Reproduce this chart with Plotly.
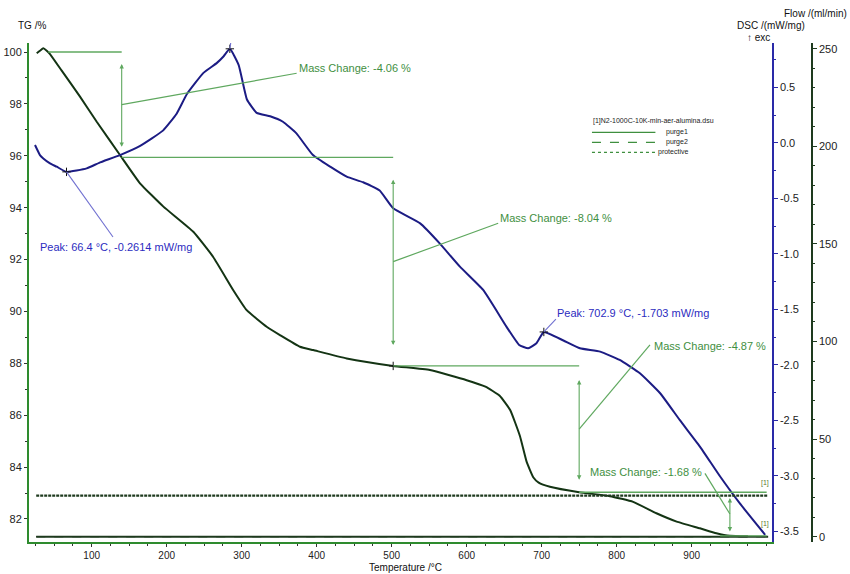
import plotly.graph_objects as go

# ---- TG curve (mass %) ----
tg_temp = [26.7, 31, 35.5, 40, 44.4, 60, 84.4, 106.7, 137.7, 164.4, 195.6, 235.5, 262,
           288.8, 306.7, 333.3, 351, 377.7, 395.5, 440, 502, 551, 600, 625, 644, 658,
           671, 680, 689, 696, 711, 750, 791, 822, 853, 880, 911, 933, 951, 975]
tg_mass = [99.95, 100.05, 100.14, 100.05, 99.92, 99.28, 98.28, 97.31, 96.03, 94.94, 94.04,
           93.07, 92.10, 90.82, 90.05, 89.41, 89.09, 88.64, 88.51, 88.19, 87.90, 87.74,
           87.35, 87.10, 86.75, 86.20, 85.20, 84.20, 83.60, 83.40, 83.24, 83.03, 82.88,
           82.66, 82.22, 81.90, 81.64, 81.45, 81.35, 81.33]

# ---- DSC curve (mW/mg) ----
dsc_temp = [24.4, 31, 35.5, 44.4, 53.3, 66.4, 93.3, 110, 137.8, 164, 195, 213, 227, 249,
            267, 276, 284.2, 296, 307, 320, 338, 355, 373, 395, 418, 440, 462, 484, 502,
            538, 564, 591, 622, 653, 670, 682, 693, 702.9, 729, 751, 778, 804, 831, 858,
            884, 911, 938, 964, 998]
dsc_signal = [-0.02, -0.11, -0.14, -0.185, -0.215, -0.2614, -0.23, -0.18, -0.11, -0.03,
              0.11, 0.26, 0.44, 0.63, 0.72, 0.78, 0.8467, 0.70, 0.39, 0.27, 0.24, 0.19,
              0.085, -0.11, -0.215, -0.305, -0.355, -0.43, -0.59, -0.725, -0.905, -1.115,
              -1.325, -1.655, -1.82, -1.85, -1.805, -1.703, -1.78, -1.85, -1.88, -1.955,
              -2.075, -2.255, -2.495, -2.735, -3.005, -3.245, -3.53]

# ---- gas flows (ml/min) ----
flow_temp = [26, 1002]
purge1_flow = [0, 0]
purge2_flow = [0, 0]
protective_flow = [21, 21]
flow_names = ["purge1", "purge2", "protective"]

# ---- evaluated DSC peaks ----
peak_temp = [66.4, 284.2, 702.9]
peak_dsc = [-0.2614, 0.8467, -1.703]

# ---- evaluated TG mass steps ----
start_mass = 100.0
step_temp = [140, 502, 750, 951]
mass_change = [-4.06, -8.04, -4.87, -1.68]

# ---- axis ticks ----
x_ticks = [100, 200, 300, 400, 500, 600, 700, 800, 900]
tg_ticks = [82, 84, 86, 88, 90, 92, 94, 96, 98, 100]
dsc_ticks = [0.5, 0.0, -0.5, -1.0, -1.5, -2.0, -2.5, -3.0, -3.5]
flow_ticks = [0, 50, 100, 150, 200, 250]

FONT = "Liberation Sans, Arial, sans-serif"
TG_COL = "#143414"
DSC_COL = "#1c1c84"
EVAL_GREEN = "#3f8f3f"
EVAL_LINE = "#5fa85f"
PEAK_TEXT = "#2c2cc0"
PEAK_LINE = "#7070d0"
FLOW_COL = "#1e3a1e"

# mass levels after each step
levels = [start_mass]
for dm in mass_change:
    levels.append(round(levels[-1] + dm, 2))

fig = go.Figure()

fig.add_trace(go.Scatter(x=tg_temp, y=tg_mass, mode="lines",
                         line=dict(color=TG_COL, width=2, shape="spline", smoothing=0.4),
                         yaxis="y", showlegend=False, hoverinfo="skip"))
flow_styles = [dict(width=2, dash="solid"), dict(width=1.2, dash="dash"), dict(width=2.2, dash="3px,1px")]
for name, vals, st in zip(flow_names, [purge1_flow, purge2_flow, protective_flow], flow_styles):
    fig.add_trace(go.Scatter(x=flow_temp, y=vals, mode="lines", name=name,
                             line=dict(color=FLOW_COL, **st), yaxis="y3", showlegend=False))
fig.add_trace(go.Scatter(x=dsc_temp, y=dsc_signal, mode="lines",
                         line=dict(color=DSC_COL, width=2, shape="spline", smoothing=0.4),
                         yaxis="y2", showlegend=False, hoverinfo="skip"))
fig.add_trace(go.Scatter(x=peak_temp, y=peak_dsc, mode="markers", yaxis="y2", showlegend=False,
                         marker=dict(symbol="cross-thin", size=6, line=dict(color="#111", width=1))))
fig.add_trace(go.Scatter(x=step_temp[1:2], y=levels[2:3], mode="markers", yaxis="y", showlegend=False,
                         marker=dict(symbol="cross-thin", size=6, line=dict(color="#111", width=1))))

shapes = []
annotations = []

# horizontal reference levels of the mass-change evaluation
level_span = [(42, 140), (140, 502), (502, 750), (750, 1000), (938, 1000)]
for lvl, (t0, t1) in zip(levels, level_span):
    shapes.append(dict(type="line", xref="x", yref="y", x0=t0, x1=t1, y0=lvl, y1=lvl,
                       line=dict(color=EVAL_LINE, width=1.3)))

# label anchor points (temperature, mass) for each step
label_end = [(373.3, 99.18), (642, 93.4), (844.4, 88.71), (917.7, 83.76)]
label_pos = [(373.7, 99.38, "left"), (641.7, 93.60, "left"), (847, 88.67, "left"), (917, 83.81, "right")]
for i, t in enumerate(step_temp):
    up, lo = levels[i], levels[i + 1]
    d = up - lo
    annotations.append(dict(x=t, y=lo + 0.1 * d, ax=t, ay=up - 0.1 * d, xref="x", yref="y",
                            axref="x", ayref="y", text="", showarrow=True, arrowside="end+start",
                            arrowhead=2, startarrowhead=2, arrowsize=0.8, startarrowsize=0.8,
                            arrowwidth=1.1, arrowcolor=EVAL_LINE))
    mid = (up + lo) / 2
    ex, ey = label_end[i]
    shapes.append(dict(type="line", xref="x", yref="y", x0=t, y0=mid, x1=ex, y1=ey,
                       line=dict(color=EVAL_LINE, width=1.2)))
    lx, ly, anc = label_pos[i]
    annotations.append(dict(x=lx, y=ly, xref="x", yref="y", text=f"Mass Change: {mass_change[i]:.2f} %",
                            showarrow=False, xanchor=anc, yanchor="middle",
                            font=dict(family=FONT, size=11, color=EVAL_GREEN)))

# peak labels
peak_label = [(28.4, -0.938, 128.4, -0.848), (284.4, 0.953, 285.5, 0.905), (717.7, -1.532, 719, -1.587)]
for t, v, (lx, ly, ex, ey) in zip(peak_temp, peak_dsc, peak_label):
    shapes.append(dict(type="line", xref="x", yref="y2", x0=t, y0=v, x1=ex, y1=ey,
                       line=dict(color=PEAK_LINE, width=1.1)))
    annotations.append(dict(x=lx, y=ly, xref="x", yref="y2", text=f"Peak: {t:.1f} °C, {v} mW/mg",
                            showarrow=False, xanchor="left", yanchor="middle",
                            font=dict(family=FONT, size=11, color=PEAK_TEXT)))


def ann(text, x, y, xanchor, size=10, color="#111"):
    annotations.append(dict(text=text, x=x, y=y, xref="paper", yref="paper", xanchor=xanchor,
                            yanchor="middle", showarrow=False, font=dict(family=FONT, size=size, color=color)))


# axis titles
ann("TG /%", -0.0166, 1.036, "left")
ann("Flow /(ml/min)", 1.047, 1.060, "right")
ann("DSC /(mW/mg)", 0.9936, 1.036, "right")
ann("↑ exc", 0.9489, 1.012, "right")
ann("Temperature /°C", 0.481, -0.0505, "center", size=10)
ann("[1]", 0.94, 0.118, "center", size=7, color="#5a7a2a")
ann("[1]", 0.94, 0.036, "center", size=7, color="#5a7a2a")

# file legend (paper coordinates)
ann("[1]N2-1000C-10K-min-aer-alumina.dsu", 0.7178, 0.843, "left", size=7, color="#222")
legend_dash = ["solid", "dash", "dot"]
for k, (name, dash) in enumerate(zip(flow_names, legend_dash)):
    ly = 0.821 - k * 0.020
    shapes.append(dict(type="line", xref="paper", yref="paper", x0=0.719, x1=0.800, y0=ly, y1=ly,
                       line=dict(color=EVAL_GREEN, width=1.3, dash=dash)))
    ann(name, 0.844, ly, "right", size=7, color="#222")

fig.update_layout(
    width=850, height=574,
    margin=dict(l=29, r=38, t=43, b=32, autoexpand=False),
    paper_bgcolor="white", plot_bgcolor="white",
    font=dict(family=FONT, color="#222"),
    shapes=shapes, annotations=annotations,
    showlegend=False,
    xaxis=dict(domain=[0, 0.9485], range=[16.4, 1006.7], showgrid=False, zeroline=False,
               showline=True, linecolor="#2e8b2e", linewidth=2, ticks="outside", ticklen=3,
               tickcolor="#333", tickvals=x_ticks, ticktext=[str(v) for v in x_ticks],
               tickfont=dict(family=FONT, size=10, color="#222"), anchor="y", automargin=False,
               minor=dict(dtick=25, tick0=0, ticks="outside", ticklen=2, tickcolor="#333")),
    yaxis=dict(range=[81.113, 100.347], showgrid=False, zeroline=False, showline=True,
               linecolor="#2e8b2e", linewidth=2, ticks="outside", ticklen=3, tickcolor="#333",
               tickvals=tg_ticks, ticktext=[str(v) for v in tg_ticks], automargin=False,
               tickfont=dict(family=FONT, size=11, color="#222"),
               minor=dict(dtick=1, tick0=0, ticks="outside", ticklen=2, tickcolor="#333")),
    yaxis2=dict(overlaying="y", side="right", anchor="x", range=[-3.5945, 0.899], showgrid=False,
                zeroline=False, showline=True, linecolor="#2a2aa8", linewidth=2, ticks="outside",
                ticklen=4, tickcolor="#2a2aa8", tickvals=dsc_ticks, automargin=False,
                ticktext=[f"{v:.1f}" for v in dsc_ticks],
                tickfont=dict(family=FONT, size=11, color="#222"),
                minor=dict(dtick=0.25, tick0=0, ticks="outside", ticklen=2, tickcolor="#2a2aa8")),
    yaxis3=dict(overlaying="y", side="right", anchor="free", position=1.0, range=[-2.71, 252.92],
                showgrid=False, zeroline=False, showline=True, linecolor=FLOW_COL, linewidth=1.5,
                ticks="outside", ticklen=4, tickcolor=FLOW_COL, tickvals=flow_ticks, automargin=False,
                ticktext=[str(v) for v in flow_ticks],
                tickfont=dict(family=FONT, size=11, color="#222"),
                minor=dict(dtick=10, tick0=0, ticks="outside", ticklen=2, tickcolor=FLOW_COL)),
)

fig.write_html("out.html")
